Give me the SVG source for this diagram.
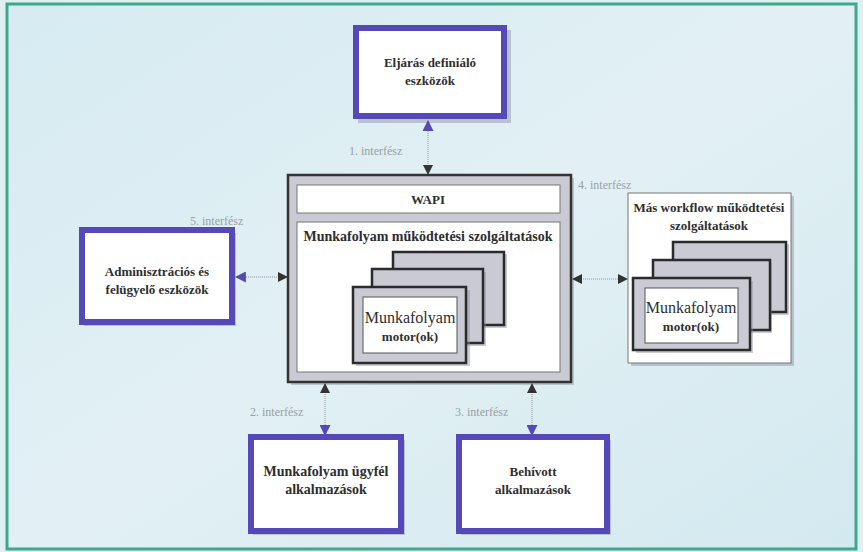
<svg xmlns="http://www.w3.org/2000/svg" width="863" height="552" viewBox="0 0 863 552">
  <defs>
    <linearGradient id="bg" x1="0" y1="0" x2="1" y2="1">
      <stop offset="0" stop-color="#d6ebf2"/>
      <stop offset="0.5" stop-color="#e2f0f4"/>
      <stop offset="1" stop-color="#d3e9f0"/>
    </linearGradient>
    <marker id="hDark" viewBox="0 0 10 10" refX="9" refY="5" markerWidth="10" markerHeight="10" markerUnits="userSpaceOnUse" orient="auto-start-reverse">
      <path d="M0,0 L10,5 L0,10 z" fill="#333"/>
    </marker>
    <marker id="hPurple" viewBox="0 0 10 10" refX="9" refY="5" markerWidth="11" markerHeight="11" markerUnits="userSpaceOnUse" orient="auto-start-reverse">
      <path d="M0,0 L10,5 L0,10 z" fill="#5548b8"/>
    </marker>
  </defs>
  <style>
    text { font-family: "Liberation Serif", "DejaVu Serif", serif; }
    .tool { fill: #ffffff; stroke: #5548b8; stroke-width: 6; }
    .shadow { fill: #8a8fa0; opacity: 0.45; }
    .lbl { font-weight: bold; fill: #2e2e2e; text-anchor: middle; }
    .reg { font-weight: normal; }
    .ifc { fill: #9aa0a6; font-size: 12px; }
    .grey { fill: #c9cad3; stroke: #333; stroke-width: 2.5; }
    .panel { fill: #ffffff; stroke: #777; stroke-width: 1; }
    .card { fill: #c9cad3; stroke: #2b2b2b; stroke-width: 2.5; }
    .cardIn { fill: #ffffff; stroke: #555; stroke-width: 1; }
    .conn { stroke: #8c8c8c; stroke-width: 0.9; stroke-dasharray: 1 1; fill: none; }
  </style>

  <!-- backdrop and frame -->
  <rect x="0" y="0" width="863" height="552" fill="#dff0f3"/>
  <rect x="7" y="4" width="849" height="545" fill="url(#bg)" stroke="#3ea98a" stroke-width="3"/>

  <!-- process definition tools -->
  <g id="eljaras">
    <rect class="shadow" x="358" y="30" width="153" height="93"/>
    <rect class="tool" x="356" y="28" width="148" height="88"/>
    <text class="lbl" font-size="13" x="430" y="67">Eljárás definiáló</text>
    <text class="lbl" font-size="13" x="430" y="85">eszközök</text>
  </g>

  <!-- workflow enactment service -->
  <g id="main">
    <rect class="shadow" x="291" y="178" width="283" height="207"/>
    <rect class="grey" x="288" y="175" width="283" height="207"/>
    <rect class="panel" x="297" y="185" width="263" height="28"/>
    <text class="lbl" font-size="13" x="428" y="204">WAPI</text>
    <rect class="panel" x="297" y="222" width="263" height="150"/>
    <text class="lbl" font-size="14" x="428" y="241">Munkafolyam működtetési szolgáltatások</text>
    <g id="main-stack">
      <rect class="shadow" x="395" y="254" width="112" height="74"/>
      <rect class="card" x="393" y="252" width="111" height="73"/>
      <rect class="shadow" x="374" y="272" width="112" height="74"/>
      <rect class="card" x="372" y="269" width="111" height="74"/>
      <rect class="shadow" x="356" y="290" width="114" height="76"/>
      <rect class="card" x="353" y="287" width="113" height="76"/>
      <rect class="cardIn" x="363" y="297" width="94" height="56"/>
      <text class="lbl reg" font-size="16" x="410" y="323">Munkafolyam</text>
      <text class="lbl" font-size="13" x="410" y="341">motor(ok)</text>
    </g>
  </g>

  <!-- other workflow enactment services -->
  <g id="mas">
    <rect class="shadow" x="631" y="196" width="163" height="170"/>
    <rect class="panel" x="628" y="193" width="163" height="170"/>
    <text class="lbl" font-size="13" x="709" y="212">Más workflow működtetési</text>
    <text class="lbl" font-size="13" x="709" y="230">szolgáltatások</text>
    <rect class="shadow" x="675" y="244" width="114" height="71"/>
    <rect class="card" x="673" y="242" width="113" height="70"/>
    <rect class="shadow" x="655" y="263" width="117" height="70"/>
    <rect class="card" x="653" y="260" width="117" height="70"/>
    <rect class="shadow" x="636" y="281" width="117" height="72"/>
    <rect class="card" x="633" y="278" width="117" height="72"/>
    <rect class="cardIn" x="645" y="288" width="93" height="55"/>
    <text class="lbl reg" font-size="16" x="691" y="313">Munkafolyam</text>
    <text class="lbl" font-size="13" x="691" y="331">motor(ok)</text>
  </g>

  <!-- administration and monitoring tools -->
  <g id="admin">
    <rect class="shadow" x="84" y="233" width="152" height="93"/>
    <rect class="tool" x="82" y="230" width="150" height="92"/>
    <text class="lbl" font-size="13" x="157" y="276">Adminisztrációs és</text>
    <text class="lbl" font-size="13" x="157" y="294">felügyelő eszközök</text>
  </g>

  <!-- workflow client applications -->
  <g id="ugyfel">
    <rect class="shadow" x="253" y="440" width="152" height="95"/>
    <rect class="tool" x="251" y="437" width="150" height="94"/>
    <text class="lbl" font-size="14" x="326" y="476">Munkafolyam ügyfél</text>
    <text class="lbl" font-size="14" x="326" y="494">alkalmazások</text>
  </g>

  <!-- invoked applications -->
  <g id="behivott">
    <rect class="shadow" x="461" y="440" width="150" height="95"/>
    <rect class="tool" x="459" y="437" width="148" height="94"/>
    <text class="lbl" font-size="13" x="533" y="476">Behívott</text>
    <text class="lbl" font-size="13" x="533" y="494">alkalmazások</text>
  </g>

  <!-- interfaces -->
  <g id="connectors">
    <line class="conn" x1="428" y1="121" x2="428" y2="174" marker-start="url(#hPurple)" marker-end="url(#hDark)"/>
    <line class="conn" x1="573" y1="279" x2="627" y2="279" marker-start="url(#hDark)" marker-end="url(#hDark)"/>
    <line class="conn" x1="236" y1="277" x2="287" y2="277" marker-start="url(#hPurple)" marker-end="url(#hDark)"/>
    <line class="conn" x1="325" y1="384" x2="325" y2="435" marker-start="url(#hDark)" marker-end="url(#hPurple)"/>
    <line class="conn" x1="532" y1="384" x2="532" y2="435" marker-start="url(#hDark)" marker-end="url(#hPurple)"/>
    <text class="ifc" x="349" y="155">1. interfész</text>
    <text class="ifc" x="250" y="416">2. interfész</text>
    <text class="ifc" x="455" y="416">3. interfész</text>
    <text class="ifc" x="578" y="189">4. interfész</text>
    <text class="ifc" x="190" y="225">5. interfész</text>
  </g>
</svg>
